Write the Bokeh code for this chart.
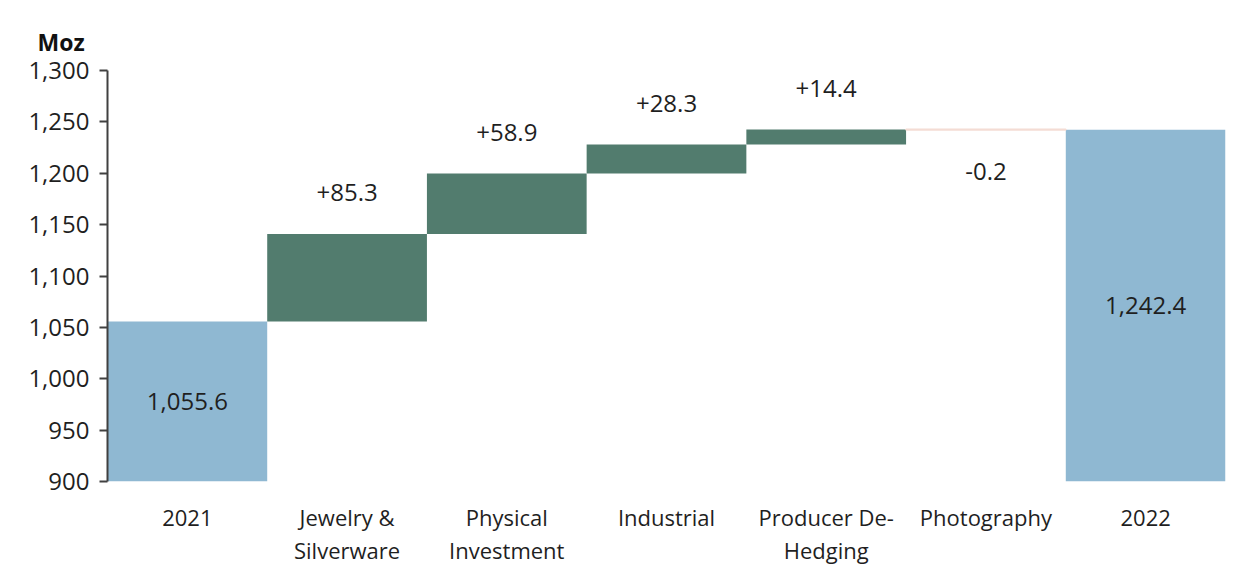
from bokeh.plotting import figure
from bokeh.models import ColumnDataSource, FixedTicker, NumeralTickFormatter, Range1d
from bokeh.core.properties import value
from bokeh.embed import file_html
from bokeh.resources import INLINE

categories = ["2021", "Jewelry &\nSilverware", "Physical\nInvestment", "Industrial",
              "Producer De-\nHedging", "Photography", "2022"]
start_total = 1055.6
deltas = [85.3, 58.9, 28.3, 14.4, -0.2]
end_total = 1242.4
y_ticks = [900, 950, 1000, 1050, 1100, 1150, 1200, 1250, 1300]

FONT = "Open Sans"
BLUE = "#8fb8d2"
GREEN = "#527c6e"
PINK = "#f4dcd4"
TEXT = "#1f1f1f"

y_min, y_max = 900, 1300

xs = list(range(len(categories)))

tot_x = [xs[0], xs[-1]]
tot_top = [start_total, end_total]
tot_bottom = [0, 0]

pos_x, pos_bottom, pos_top = [], [], []
neg_x, neg_bottom, neg_top = [], [], []
level = start_total
lab_x, lab_y, lab_t = [], [], []
for i, d in enumerate(deltas):
    x = xs[i + 1]
    new = level + d
    if d >= 0:
        pos_x.append(x); pos_bottom.append(level); pos_top.append(new)
        lab_y.append(new + 40)
    else:
        neg_x.append(x); neg_bottom.append(new); neg_top.append(level)
        lab_y.append(new - 41)
    lab_x.append(x)
    lab_t.append(f"{d:+.1f}")
    level = new

p = figure(frame_width=1118, frame_height=411, output_backend="svg", toolbar_location=None,
           x_range=Range1d(-0.5, len(categories) - 0.5), y_range=Range1d(y_min, y_max),
           min_border_left=107, min_border_right=8, min_border_top=70, min_border_bottom=6)
p.outline_line_color = None
p.xgrid.visible = False
p.ygrid.visible = False
p.background_fill_color = "white"

p.vbar(x=tot_x, top=tot_top, bottom=tot_bottom, width=1.0, fill_color=BLUE, line_color=None)
p.vbar(x=pos_x, top=pos_top, bottom=pos_bottom, width=1.0, fill_color=GREEN, line_color=None)
p.vbar(x=neg_x, top=neg_top, bottom=neg_bottom, width=1.0, fill_color=PINK, line_color=PINK, line_width=2)

src = ColumnDataSource(dict(x=lab_x, y=lab_y, t=lab_t))
p.text(x="x", y="y", text="t", source=src, text_align="center", text_baseline="middle",
       text_font=value(FONT), text_font_size="24px", text_color=TEXT)

tot_src = ColumnDataSource(dict(x=tot_x, y=[(y_min + v) / 2 for v in tot_top],
                                t=[f"{v:,.1f}" for v in tot_top]))
p.text(x="x", y="y", text="t", source=tot_src, text_align="center", text_baseline="middle",
       text_font=value(FONT), text_font_size="24px", text_color=TEXT)

p.yaxis.ticker = FixedTicker(ticks=y_ticks)
p.yaxis.formatter = NumeralTickFormatter(format="0,0")
p.yaxis.major_label_text_font = FONT
p.yaxis.major_label_text_font_size = "24px"
p.yaxis.major_label_text_color = TEXT
p.yaxis.axis_line_color = "#404040"
p.yaxis.axis_line_width = 2
p.yaxis.major_tick_line_color = "#404040"
p.yaxis.major_tick_line_width = 2
p.yaxis.major_tick_in = 0
p.yaxis.major_tick_out = 8
p.yaxis.minor_tick_line_color = None
p.yaxis.major_label_standoff = 10

p.xaxis.ticker = FixedTicker(ticks=xs)
p.xaxis.major_label_overrides = {x: c for x, c in zip(xs, categories)}
p.xaxis.major_label_text_font = FONT
p.xaxis.major_label_text_font_size = "22px"
p.xaxis.major_label_text_color = TEXT
p.xaxis.major_label_text_line_height = 1.1
p.xaxis.axis_line_color = None
p.xaxis.major_tick_line_color = None
p.xaxis.minor_tick_line_color = None
p.xaxis.major_label_standoff = 14

p.title.text = "Moz"
p.title.align = "left"
p.title.offset = -70
p.title.text_font = FONT
p.title.text_font_size = "23px"
p.title.text_font_style = "bold"
p.title.text_color = "#111111"
p.title.standoff = 26

open("out.html", "w").write(file_html(p, INLINE))
